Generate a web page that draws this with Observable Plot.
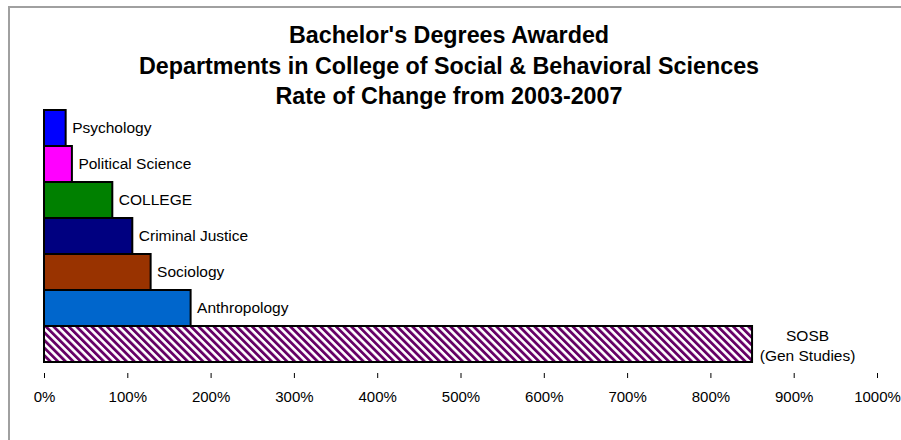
<!DOCTYPE html>
<html>
<head>
<meta charset="utf-8">
<script src="https://cdn.jsdelivr.net/npm/d3@7"></script>
<script src="https://cdn.jsdelivr.net/npm/@observablehq/plot@0.6"></script>
<style>
  html, body { margin: 0; padding: 0; background: #fff; overflow: hidden; }
  #wrap { position: relative; width: 901px; height: 440px; font-family: "Liberation Sans", Arial, sans-serif; }
  #border { position: absolute; left: 8px; top: 6px; width: 1000px; height: 1000px; border-left: 2px solid #a0a0a0; border-top: 2px solid #a0a0a0; box-sizing: border-box; }
  #title { position: absolute; left: 0; top: 20px; width: 898px; text-align: center; font-weight: bold; font-size: 23.3px; line-height: 30.5px; color: #000; }
  #chart { position: absolute; left: 0; top: 0; }
</style>
</head>
<body>
<div id="wrap">
  <div id="border"></div>
  <div id="chart"></div>
  <div id="title">Bachelor's Degrees Awarded<br>Departments in College of Social &amp; Behavioral Sciences<br>Rate of Change from 2003-2007</div>
</div>
<script>
// Data
const departments = ["Psychology", "Political Science", "COLLEGE", "Criminal Justice", "Sociology", "Anthropology", "SOSB"];
const labels = ["Psychology", "Political Science", "COLLEGE", "Criminal Justice", "Sociology", "Anthropology", "SOSB\n(Gen Studies)"];
const rateOfChange = [26, 33.5, 82, 106, 128, 176, 850];
const barColors = ["#0000ff", "#ff00ff", "#008000", "#000080", "#993300", "#0066cc", "url(#hatch)"];
const tickValues = [0, 100, 200, 300, 400, 500, 600, 700, 800, 900, 1000];

const data = departments.map((d, i) => ({name: d, label: labels[i], value: rateOfChange[i], color: barColors[i]}));
const solid = data.filter(d => d.name !== "SOSB");
const hatched = data.filter(d => d.name === "SOSB");

const svg = Plot.plot({
  width: 901,
  height: 440,
  marginLeft: 44,
  marginRight: 24,
  marginTop: 109,
  marginBottom: 67,
  style: {fontFamily: "'Liberation Sans', Arial, sans-serif", fontSize: "15.5px", background: "transparent", color: "#000"},
  x: {domain: [0, 1000], ticks: tickValues, tickFormat: d => d + "%", label: null},
  y: {domain: departments, padding: 0, insetBottom: 11, axis: null, label: null},
  color: {type: "identity"},
  marks: [
    Plot.barX(data, {x: "value", y: "name", fill: "color", stroke: "#000", strokeWidth: 2}),
    Plot.text(solid, {x: "value", y: "name", text: "label", textAnchor: "start", dx: 6, fontSize: 15.5, fill: "#000"}),
    Plot.text(hatched, {x: "value", y: "name", text: "label", textAnchor: "middle", dx: 55, fontSize: 15.5, lineHeight: 1.33, fill: "#000"}),
    Plot.axisX({ticks: tickValues, tickFormat: d => d + "%", tickSize: 5, tickPadding: 13, fontSize: 15, label: null, line: true, stroke: "#000"})
  ]
});

// Hatch pattern for SOSB
const ns = "http://www.w3.org/2000/svg";
const defs = document.createElementNS(ns, "defs");
const pat = document.createElementNS(ns, "pattern");
pat.setAttribute("id", "hatch");
pat.setAttribute("patternUnits", "userSpaceOnUse");
pat.setAttribute("width", "5.4");
pat.setAttribute("height", "5.4");
pat.setAttribute("patternTransform", "rotate(-45)");
const bg = document.createElementNS(ns, "rect");
bg.setAttribute("width", "5.4"); bg.setAttribute("height", "5.4"); bg.setAttribute("fill", "#fff");
const stripe = document.createElementNS(ns, "rect");
stripe.setAttribute("width", "2.8"); stripe.setAttribute("height", "5.4"); stripe.setAttribute("fill", "#660066");
pat.appendChild(bg); pat.appendChild(stripe);
defs.appendChild(pat);
svg.insertBefore(defs, svg.firstChild);

document.getElementById("chart").appendChild(svg);
</script>
</body>
</html>
